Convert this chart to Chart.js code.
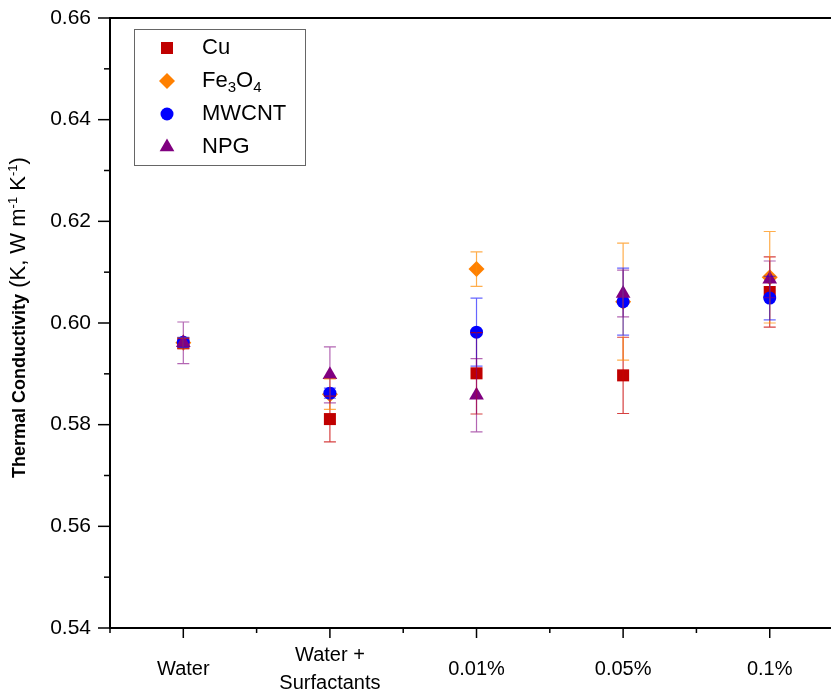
<!DOCTYPE html>
<html>
<head>
<meta charset="utf-8">
<script src="https://cdn.jsdelivr.net/npm/chart.js@4/dist/chart.umd.min.js"></script>
<style>
  html, body { margin: 0; padding: 0; background: #fff; }
  #wrap { width: 831px; height: 695px; }
</style>
</head>
<body>
<div id="wrap"><canvas id="myChart" width="831" height="695"></canvas></div>
<script>
// categories on the x axis
const categories = ['Water', ['Water +', 'Surfactants'], '0.01%', '0.05%', '0.1%'];

// thermal conductivity values and error (+/-) per series
const cu = [0.5960, 0.5811, 0.5901, 0.5897, 0.6061];
const cuErr = [0.001, 0.0045, 0.0080, 0.0075, 0.0069];
const fe3o4 = [0.5961, 0.5860, 0.6106, 0.6042, 0.6090];
const fe3o4Err = [0.001, 0.0030, 0.0034, 0.0115, 0.0090];
const mwcnt = [0.5962, 0.5862, 0.5982, 0.6042, 0.6049];
const mwcntErr = [0.001, 0.001, 0.0067, 0.0066, 0.0043];
const npg = [0.5961, 0.5898, 0.5858, 0.6058, 0.6086];
const npgErr = [0.0041, 0.0055, 0.0072, 0.0046, 0.0036];

const yTicks = [0.54, 0.56, 0.58, 0.60, 0.62, 0.64, 0.66];

const toPoints = arr => arr.map((v, i) => ({x: i, y: v}));

const series = [
  {label: 'Cu', data: cu, err: cuErr, color: '#C00000', bar: 'rgba(200,0,0,0.75)', style: 'rect', radius: 8.5, order: 4},
  {label: 'Fe3O4', data: fe3o4, err: fe3o4Err, color: '#FF8000', bar: 'rgba(255,140,0,0.7)', style: 'rectRot', radius: 8, order: 3},
  {label: 'MWCNT', data: mwcnt, err: mwcntErr, color: '#0000FF', bar: 'rgba(0,0,255,0.6)', style: 'circle', radius: 6.5, order: 2},
  {label: 'NPG', data: npg, err: npgErr, color: '#800080', bar: 'rgba(128,0,128,0.6)', style: 'triangle', radius: 8.5, order: 1}
];

const isInt = v => Math.abs(v - Math.round(v)) < 1e-6;

const frame = {
  id: 'frame',
  afterDatasetsDraw(chart) {
    const ctx = chart.ctx;
    const xs = chart.scales.x, ys = chart.scales.y;
    ctx.save();
    ctx.lineWidth = 1.2;
    series.forEach(s => {
      ctx.strokeStyle = s.bar;
      s.data.forEach((v, i) => {
        const px = xs.getPixelForValue(i);
        const top = ys.getPixelForValue(v + s.err[i]);
        const bot = ys.getPixelForValue(v - s.err[i]);
        ctx.beginPath();
        ctx.moveTo(px, top); ctx.lineTo(px, bot);
        ctx.moveTo(px - 6, top); ctx.lineTo(px + 6, top);
        ctx.moveTo(px - 6, bot); ctx.lineTo(px + 6, bot);
        ctx.stroke();
      });
    });
    ctx.restore();
  },
  afterDraw(chart) {
    const ctx = chart.ctx;
    const xs = chart.scales.x, ys = chart.scales.y;
    const area = chart.chartArea;
    ctx.save();
    ctx.strokeStyle = '#000';
    ctx.lineWidth = 2;
    // top frame line and bottom axis carried to the canvas edge
    ctx.beginPath();
    ctx.moveTo(area.left, area.top);
    ctx.lineTo(chart.width, area.top);
    ctx.moveTo(area.right - 2, area.bottom);
    ctx.lineTo(chart.width, area.bottom);
    ctx.stroke();
    // y ticks (major + minor)
    ctx.lineWidth = 1.5;
    for (let k = 0; k <= 12; k++) {
      const v = 0.54 + k * 0.01;
      const py = ys.getPixelForValue(v);
      const len = k % 2 === 0 ? 12 : 6;
      ctx.beginPath();
      ctx.moveTo(area.left - len, py);
      ctx.lineTo(area.left, py);
      ctx.stroke();
    }
    // x ticks (major at categories, minor between)
    for (let k = -1; k <= 9; k++) {
      const v = k * 0.5;
      if (v > xs.max) break;
      const px = xs.getPixelForValue(v);
      const len = k % 2 === 0 ? 10 : 5;
      ctx.beginPath();
      ctx.moveTo(px, area.bottom);
      ctx.lineTo(px, area.bottom + len);
      ctx.stroke();
    }

    // y axis title with mixed bold / superscripts
    ctx.translate(25, 478);
    ctx.rotate(-Math.PI / 2);
    ctx.fillStyle = '#000';
    ctx.textBaseline = 'alphabetic';
    ctx.textAlign = 'left';
    let x = 0;
    const part = (txt, font, dy) => {
      ctx.font = font;
      ctx.fillText(txt, x, dy);
      x += ctx.measureText(txt).width;
    };
    part('Thermal Conductivity', 'bold 18px Arial', 0);
    part(' (K, W m', '22px Arial', 0);
    part('-1', '13px Arial', -8);
    part(' K', '22px Arial', 0);
    part('-1', '13px Arial', -8);
    part(')', '22px Arial', 0);
    ctx.restore();

    // legend box
    ctx.save();
    ctx.strokeStyle = '#666';
    ctx.lineWidth = 1;
    ctx.strokeRect(134.5, 29.5, 171, 136);
    const rows = [48, 81, 114, 147];
    series.forEach((s, i) => {
      ctx.fillStyle = s.color;
      ctx.strokeStyle = s.color;
      Chart.helpers.drawPoint(ctx, {pointStyle: s.style, radius: s.radius, rotation: 0, borderWidth: 0}, 167, rows[i]);
      ctx.fillStyle = '#000';
      ctx.textBaseline = 'middle';
      ctx.textAlign = 'left';
      let tx = 202;
      const txt = (t, font, dy) => {
        ctx.font = font;
        ctx.fillText(t, tx, rows[i] + dy);
        tx += ctx.measureText(t).width;
      };
      if (s.label === 'Fe3O4') {
        txt('Fe', '22px Arial', 0);
        txt('3', '15px Arial', 7);
        txt('O', '22px Arial', 0);
        txt('4', '15px Arial', 7);
      } else {
        txt(s.label, '22px Arial', 0);
      }
    });
    ctx.restore();
  }
};

const ctx = document.getElementById('myChart').getContext('2d');

const chart = new Chart(ctx, {
  type: 'scatter',
  data: {
    datasets: series.map(s => ({
      label: s.label,
      data: toPoints(s.data),
      pointStyle: s.style,
      pointRadius: s.radius,
      pointHoverRadius: s.radius,
      backgroundColor: s.color,
      borderColor: s.color,
      borderWidth: 0,
      order: s.order,
      clip: false
    }))
  },
  options: {
    responsive: false,
    animation: false,
    events: [],
    layout: {padding: {left: 0, top: 18, right: 0, bottom: 0}},
    plugins: {
      legend: {display: false},
      tooltip: {enabled: false}
    },
    scales: {
      x: {
        type: 'linear',
        min: -0.5,
        max: 4.36,
        afterFit: s => { s.height = 67; s.paddingLeft = 0; s.paddingRight = 0; },
        grid: {display: false, drawTicks: false},
        border: {display: true, color: '#000', width: 2},
        ticks: {
          stepSize: 0.5,
          includeBounds: false,
          autoSkip: false,
          maxRotation: 0,
          padding: 27,
          crossAlign: 'center',
          color: '#000',
          font: {family: 'Arial', size: 20, lineHeight: 1.4},
          callback: v => (isInt(v) && v >= 0 && v < categories.length) ? categories[Math.round(v)] : ''
        }
      },
      y: {
        min: 0.54,
        max: 0.66,
        afterFit: s => { s.width = 110; s.paddingTop = 0; s.paddingBottom = 0; },
        grid: {display: false, drawTicks: false},
        border: {display: true, color: '#000', width: 2},
        ticks: {
          stepSize: 0.01,
          autoSkip: false,
          padding: 19,
          color: '#000',
          font: {family: 'Arial', size: 21},
          callback: v => yTicks.some(t => Math.abs(t - v) < 1e-6) ? v.toFixed(2) : ''
        }
      }
    }
  },
  plugins: [frame]
});
</script>
</body>
</html>
